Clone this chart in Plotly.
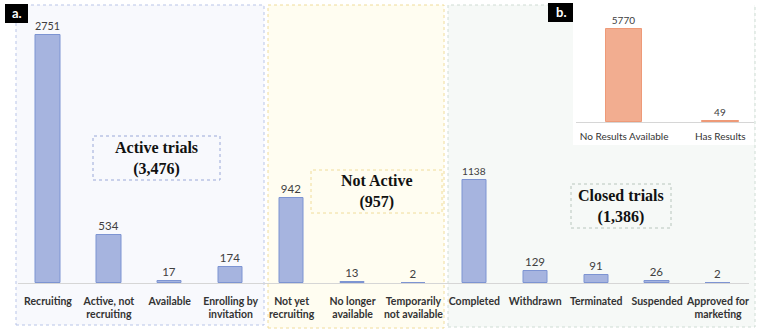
import plotly.graph_objects as go

# Trial status counts (panel a)
status_labels = [
    "Recruiting", "Active, not<br>recruiting", "Available", "Enrolling by<br>invitation",
    "Not yet<br>recruiting", "No longer<br>available", "Temporarily<br>not available",
    "Completed", "Withdrawn", "Terminated", "Suspended", "Approved for<br>marketing",
]
status_counts = [2751, 534, 17, 174, 942, 13, 2, 1138, 129, 91, 26, 2]

# Results availability (panel b)
result_labels = ["No Results Available", "Has Results"]
result_counts = [5770, 49]

# Group summaries
group_titles = ["Active trials<br>(3,476)", "Not Active<br>(957)", "Closed trials<br>(1,386)"]

W, H = 758, 336


def px_x(x):
    return x / W


def px_y(y):
    return 1 - y / H


fig = go.Figure()

fig.add_trace(go.Bar(
    x=list(range(len(status_counts))), y=status_counts,
    text=[str(v) for v in status_counts], textposition="outside",
    textfont=dict(family="Lato", size=11.5, color="#404040"),
    marker=dict(color="#a6b4df", line=dict(color="#7d94d2", width=1)),
    width=0.4, cliponaxis=False, xaxis="x", yaxis="y", showlegend=False,
))

fig.add_trace(go.Bar(
    x=[0, 1], y=result_counts,
    text=[str(v) for v in result_counts], textposition="outside",
    textfont=dict(family="Lato", size=10, color="#404040"),
    marker=dict(color="#f2ad90", line=dict(color="#ee9a78", width=1)),
    width=0.38, cliponaxis=False, xaxis="x2", yaxis="y2", showlegend=False,
))

shapes = []
# group panels
panels = [
    (16, 5, 264, 325, "#f8f9fd", "#b9c5e8"),
    (268, 5, 444, 328, "#fffdf1", "#f0dc9a"),
    (448, 5, 755, 327, "#f6f9f7", "#cfdcd4"),
]
for x0, y0, x1, y1, fill, line in panels:
    shapes.append(dict(type="rect", xref="paper", yref="paper", layer="below",
                       x0=px_x(x0), x1=px_x(x1), y0=px_y(y1), y1=px_y(y0),
                       fillcolor=fill, line=dict(color=line, width=1, dash="dot")))
# inset background
shapes.append(dict(type="rect", xref="paper", yref="paper", layer="below",
                   x0=px_x(573), x1=px_x(754), y0=px_y(145), y1=px_y(3),
                   fillcolor="#ffffff", line=dict(width=0)))
# group title boxes
boxes = [
    (93, 136, 220, 180, "#9aa8d8"),
    (311, 170, 442, 213, "#f0dc9a"),
    (571, 184, 671, 228, "#b8c6bd"),
]
for x0, y0, x1, y1, line in boxes:
    shapes.append(dict(type="rect", xref="paper", yref="paper", layer="above",
                       x0=px_x(x0), x1=px_x(x1), y0=px_y(y1), y1=px_y(y0),
                       fillcolor="rgba(0,0,0,0)", line=dict(color=line, width=1, dash="dot")))

annotations = []
for (x0, y0, x1, y1, _), title in zip(boxes, group_titles):
    annotations.append(dict(
        xref="paper", yref="paper", x=px_x((x0 + x1) / 2), y=px_y((y0 + y1) / 2),
        text=title, showarrow=False, xanchor="center", yanchor="middle",
        font=dict(family="Liberation Serif", size=16, color="#111111", weight="bold"),
    ))

# panel letters
for label, x0, y0, x1, y1 in [("a.", 5, 4, 28, 23), ("b.", 548, 3, 573, 22)]:
    shapes.append(dict(type="rect", xref="paper", yref="paper", layer="above",
                       x0=px_x(x0), x1=px_x(x1), y0=px_y(y1), y1=px_y(y0),
                       fillcolor="#000000", line=dict(width=0)))
    annotations.append(dict(
        xref="paper", yref="paper", x=px_x((x0 + x1) / 2), y=px_y((y0 + y1) / 2),
        text=label, showarrow=False, xanchor="center", yanchor="middle",
        font=dict(family="Lato", size=13, color="#ffffff", weight="bold"),
    ))

base_main = 283
scale_main = 248 / 2751
base_inset = 122
scale_inset = 93 / 5770

fig.update_layout(
    width=W, height=H, margin=dict(l=0, r=0, t=0, b=0),
    paper_bgcolor="#ffffff", plot_bgcolor="rgba(0,0,0,0)",
    shapes=shapes, annotations=annotations, bargap=0,
    xaxis=dict(
        domain=[px_x(17.5), px_x(748.5)], anchor="y",
        tickmode="array", tickvals=list(range(len(status_labels))), ticktext=status_labels,
        range=[-0.5, len(status_labels) - 0.5],
        showline=True, linecolor="#d6d6d6", linewidth=1, ticks="", showgrid=False,
        zeroline=False, ticklabelstandoff=8,
        tickfont=dict(family="Lato", size=10.5, color="#333333", weight="bold"),
    ),
    yaxis=dict(
        domain=[px_y(base_main), 1], range=[0, base_main / scale_main],
        visible=False,
    ),
    xaxis2=dict(
        domain=[px_x(576), px_x(754)], anchor="y2",
        tickmode="array", tickvals=[0, 1], ticktext=result_labels,
        range=[-0.5, 1.35],
        showline=True, linecolor="#d6d6d6", linewidth=1, ticks="", showgrid=False,
        zeroline=False, ticklabelstandoff=5,
        tickfont=dict(family="Lato", size=10, color="#333333"),
    ),
    yaxis2=dict(
        domain=[px_y(base_inset), px_y(3)], range=[0, (base_inset - 3) / scale_inset],
        visible=False,
    ),
)

fig.write_html("out.html")
